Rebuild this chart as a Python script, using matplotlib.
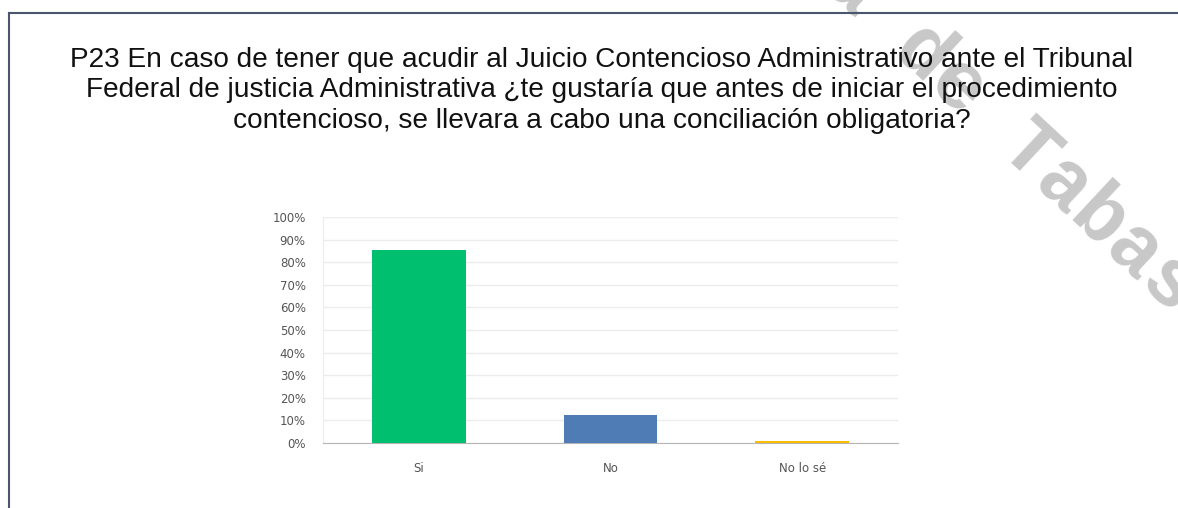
import matplotlib.pyplot as plt
from matplotlib.ticker import PercentFormatter
from matplotlib.lines import Line2D

title = ("P23 En caso de tener que acudir al Juicio Contencioso Administrativo ante el Tribunal\n"
         "Federal de justicia Administrativa ¿te gustaría que antes de iniciar el procedimiento\n"
         "contencioso, se llevara a cabo una conciliación obligatoria?")
categories = ["Si", "No", "No lo sé"]
values = [85.5, 12.4, 0.7]
colors = ["#00bf6f", "#507cb6", "#f9be00"]
yticks = list(range(0, 101, 10))
watermark = "Autónoma de Tabasco"

W, H = 1178, 508
fig = plt.figure(figsize=(W / 100, H / 100), dpi=100)

# frame lines (left and top only visible)
fig.add_artist(Line2D([9 / W, 9 / W], [0, 1 - 13 / H], color="#4a5670", lw=1.5))
fig.add_artist(Line2D([9 / W, 1], [1 - 13 / H, 1 - 13 / H], color="#4a5670", lw=1.5))

# watermark behind the title
fig.text(588 / W, 1 + 260 / H, watermark, rotation=-43,
         rotation_mode="anchor", ha="left", va="center", fontsize=58,
         family="Liberation Mono", weight="bold", color="#c8c8c8", zorder=0)

fig.text(602 / W, 1 - 47 / H, title, ha="center", va="top", fontsize=20.2,
         family="Liberation Sans", color="#111111", linespacing=1.22, zorder=5)

ax = fig.add_axes([323 / W, 1 - 443 / H, 575 / W, 226 / H])
ax.patch.set_alpha(0)
x = range(len(categories))
ax.bar(x, values, width=0.49, color=colors, zorder=3)
ax.set_xlim(-0.5, 2.5)
ax.set_ylim(0, 100)
ax.set_yticks(yticks)
ax.yaxis.set_major_formatter(PercentFormatter(decimals=0))
ax.set_xticks(list(x))
ax.set_xticklabels(categories)
ax.grid(axis="y", color="#ececec", lw=1, zorder=0)
for s in ["top", "right"]:
    ax.spines[s].set_visible(False)
ax.spines["left"].set_color("#ececec")
ax.spines["bottom"].set_color("#b5b5b5")
ax.tick_params(length=0, labelsize=8.5, colors="#555555", pad=12.5)
ax.tick_params(axis="x", pad=14)
for lab in ax.get_xticklabels() + ax.get_yticklabels():
    lab.set_family("DejaVu Sans")

fig.savefig("out.png", dpi=100)
